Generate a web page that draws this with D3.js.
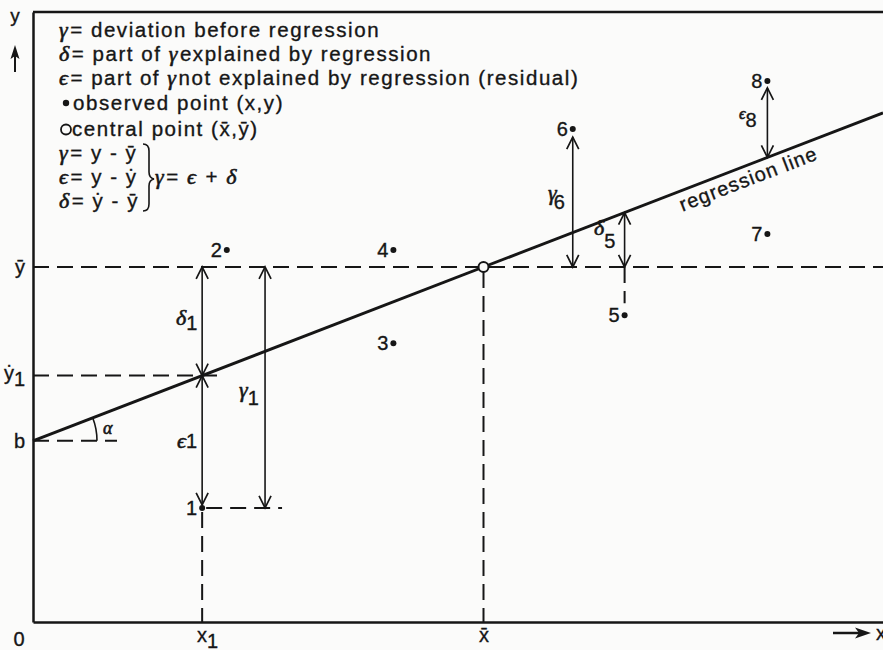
<!DOCTYPE html>
<html><head><meta charset="utf-8">
<script src="https://cdn.jsdelivr.net/npm/d3@7"></script>
<style>
body{margin:0;background:#fbfbfa;}
svg{display:block;}
text{font-family:"Liberation Sans",Arial,Helvetica,"DejaVu Sans",sans-serif;fill:#161616;stroke:#161616;stroke-width:0.35px;}
tspan.gk{font-family:"Liberation Serif","DejaVu Serif",serif;font-style:italic;stroke-width:0.6px;}
</style>
</head><body>
<svg id="c" width="883" height="650"></svg>
<script>
// ---- data (arbitrary units 0..100) ----
const pointLabels = ["1","2","3","4","5","6","7","8"];
const pointX = [19.9, 22.8, 42.4, 42.4, 69.6, 63.5, 86.4, 86.4];
const pointY = [18.7, 61.0, 45.7, 61.0, 50.3, 80.8, 63.6, 88.7];
const intercept = 29.7;      // b
const xBar = 53.0, yBar = 58.2;  // central point
const gamma1X = 27.3;        // position of the gamma_1 arrow
const legendLines = [
  "γ= deviation before regression",
  "δ= part of γexplained by regression",
  "ϵ= part of γnot explained by regression (residual)",
  "observed point (x,y)",
  "central point (x̄,ȳ)",
  "γ= y - ȳ",
  "ϵ= y - ẏ",
  "δ= ẏ - ȳ"
];
const xTickLabels = ["x1", "x̄"];
const yTickLabels = ["b", "ẏ1", "ȳ"];

// ---- derived ----
const slope = (yBar - intercept) / xBar;
const fit = v => intercept + slope * v;

const svg = d3.select("#c");
const W = 883, H = 650;
const x = d3.scaleLinear().domain([0, 100]).range([33, 883]);
const y = d3.scaleLinear().domain([0, 100]).range([622, 12]);
const ink = "#161616";

// top frame line
svg.append("line").attr("x1", x(0)).attr("x2", W).attr("y1", y(100)).attr("y2", y(100))
  .attr("stroke", ink).attr("stroke-width", 2.5);

// axes (no tick marks)
const x1 = pointX[0];
const yHat1 = fit(x1);
const gx = svg.append("g").attr("transform", `translate(0,${y(0)})`)
  .call(d3.axisBottom(x).tickValues([x1, xBar]).tickSize(0).tickSizeOuter(0).tickFormat(""));
const gy = svg.append("g").attr("transform", `translate(${x(0)},0)`)
  .call(d3.axisLeft(y).tickValues([intercept, yHat1, yBar]).tickSize(0).tickSizeOuter(0).tickFormat(""));
[gx, gy].forEach(g => {
  g.select(".domain").attr("stroke", ink).attr("stroke-width", 2.5);
  g.selectAll(".tick text").remove();
});
// x tick labels
gx.selectAll(".tick").each(function(d, i) {
  const t = d3.select(this).append("text").attr("y", 20).attr("text-anchor", "middle")
    .attr("font-size", 20).attr("fill", ink);
  if (i === 0) {
    t.append("tspan").text("x");
    t.append("tspan").attr("dy", 6).text("1");
    t.attr("x", 5);
  } else {
    t.text(xTickLabels[1]);
  }
});
// y tick labels
gy.selectAll(".tick").each(function(d, i) {
  const t = d3.select(this).append("text").attr("x", -8).attr("y", 7).attr("text-anchor", "end")
    .attr("font-size", 20).attr("fill", ink);
  if (i === 1) {
    t.append("tspan").text("ẏ");
    t.append("tspan").attr("dy", 6).text("1");
    t.attr("y", 4);
  } else {
    t.text(yTickLabels[i === 0 ? 0 : 2]);
  }
});
// origin "0"
svg.append("text").attr("x", 19).attr("y", 646).attr("text-anchor", "middle").attr("font-size", 20).text("0");

// axis name arrows
svg.append("text").attr("x", 15).attr("y", 22).attr("text-anchor", "middle").attr("font-size", 19).text("y");
svg.append("line").attr("x1", 15).attr("x2", 15).attr("y1", 72).attr("y2", 54).attr("stroke", ink).attr("stroke-width", 2);
svg.append("path").attr("d", "M15,45 L10.5,59 L15,56 L19.5,59 Z").attr("fill", ink);
svg.append("line").attr("x1", 833).attr("x2", 862).attr("y1", 633).attr("y2", 633).attr("stroke", ink).attr("stroke-width", 2.5);
svg.append("path").attr("d", "M871,633 L855,627.5 L859,633 L855,638.5 Z").attr("fill", ink);
svg.append("text").attr("x", 876).attr("y", 640).attr("font-size", 20).text("x");

// dashed guide lines
const dash = "16,8";
const dashed = (xa, ya, xb, yb) => svg.append("line")
  .attr("x1", xa).attr("y1", ya).attr("x2", xb).attr("y2", yb)
  .attr("stroke", ink).attr("stroke-width", 2).attr("stroke-dasharray", dash);
dashed(x(0), y(yBar), W, y(yBar));                 // y-bar
dashed(x(0), y(yHat1), x(x1) + 18, y(yHat1));      // y-hat 1
dashed(x(0), y(intercept), x(0) + 84, y(intercept)); // b
dashed(x(xBar), y(yBar) + 5, x(xBar), y(0));       // x-bar
dashed(x(x1), y(pointY[0]) + 4, x(x1), y(0));      // x1
dashed(x(x1) + 4, y(pointY[0]), x(gamma1X) + 17, y(pointY[0]));
dashed(x(pointX[4]), y(yBar), x(pointX[4]), y(pointY[4]) - 12);

// angle alpha
const r = 64;
const a = Math.atan((y(intercept) - y(fit(100))) / (x(100) - x(0)));
svg.append("path")
  .attr("d", `M${x(0) + r},${y(intercept)} A${r},${r} 0 0 0 ${x(0) + r * Math.cos(a)},${y(intercept) - r * Math.sin(a)}`)
  .attr("fill", "none").attr("stroke", ink).attr("stroke-width", 1.6);
const al = svg.append("text").attr("x", x(0) + 70).attr("y", y(intercept) - 7).attr("font-size", 18);
al.append("tspan").attr("class", "gk").text("α");

// regression line
svg.append("line").attr("x1", x(0)).attr("y1", y(intercept)).attr("x2", x(100)).attr("y2", y(fit(100)))
  .attr("stroke", ink).attr("stroke-width", 3);
const lx = 83.6;
svg.append("text")
  .attr("transform", `translate(${x(lx)},${y(fit(lx))}) rotate(${-a * 180 / Math.PI})`)
  .attr("x", 0).attr("y", 20).attr("text-anchor", "middle").attr("font-size", 20)
  .attr("letter-spacing", 1.1).text("regression line");

// double arrows
function vhead(xp, yTip, dir) { // dir -1: pointing up, +1: pointing down
  svg.append("path").attr("d", `M${xp - 6},${yTip - dir * 12} L${xp},${yTip} L${xp + 6},${yTip - dir * 12}`)
    .attr("fill", "none").attr("stroke", ink).attr("stroke-width", 1.7);
}
function darrow(xv, yTopPx, yBotPx) {
  svg.append("line").attr("x1", x(xv)).attr("x2", x(xv)).attr("y1", yTopPx).attr("y2", yBotPx)
    .attr("stroke", ink).attr("stroke-width", 1.6);
  vhead(x(xv), yTopPx, -1);
  vhead(x(xv), yBotPx, 1);
}
darrow(x1, y(yBar), y(yHat1));                  // delta 1
darrow(x1, y(yHat1), y(pointY[0]) - 3);         // epsilon 1
darrow(gamma1X, y(yBar), y(pointY[0]));         // gamma 1
darrow(pointX[5], y(pointY[5]) + 8, y(yBar));   // gamma 6
darrow(pointX[4], y(fit(pointX[4])), y(yBar));  // delta 5
darrow(pointX[7], y(pointY[7]) + 7, y(fit(pointX[7]))); // epsilon 8

// arrow labels
function sublabel(px, py, greek, sub, dx, dy, gsize) {
  const t = svg.append("text").attr("x", px).attr("y", py).attr("font-size", 20);
  t.append("tspan").attr("class", "gk").attr("font-size", gsize || 22).text(greek);
  t.append("tspan").attr("dx", dx).attr("dy", dy).text(sub);
}
sublabel(176, 325, "δ", "1", 0, 5);
sublabel(177, 448, "ϵ", "1", 0, 0);
sublabel(239, 397, "γ", "1", 0, 8);
sublabel(548, 200, "γ", "6", -3, 9);
sublabel(594, 235, "δ", "5", 0, 13);
sublabel(739, 119, "ϵ", "8", 0, 8, 16);

// observed points
svg.append("g").selectAll("circle").data(pointLabels).join("circle")
  .attr("cx", (d, i) => x(pointX[i])).attr("cy", (d, i) => y(pointY[i])).attr("r", 3).attr("fill", ink);
svg.append("g").selectAll("text").data(pointLabels).join("text")
  .attr("x", (d, i) => x(pointX[i]) - 5).attr("y", (d, i) => y(pointY[i]) + 7)
  .attr("text-anchor", "end").attr("font-size", 20).text(d => d);

// central point
svg.append("circle").attr("cx", x(xBar)).attr("cy", y(yBar)).attr("r", 5)
  .attr("fill", "#fbfbfa").attr("stroke", ink).attr("stroke-width", 2);

// legend
const baselines = [37, 61, 85, 110, 136, 160, 184, 208];
const lg = svg.append("g").attr("font-size", 20.5).attr("letter-spacing", 1.55);
function richText(sel, str) {
  const parts = str.split(/([γδϵ])/);
  let prevGreek = false;
  parts.forEach(p => {
    if (!p) return;
    const isGreek = /^[γδϵ]$/.test(p);
    const s = sel.append("tspan").text(p);
    if (isGreek) s.attr("class", "gk").attr("font-size", 22).attr("letter-spacing", 0.5);
    else if (prevGreek) s.attr("dx", 2);
    prevGreek = isGreek;
  });
}
legendLines.forEach((line, i) => {
  let xs = 59;
  if (i === 3) {
    svg.append("circle").attr("cx", 66).attr("cy", baselines[i] - 7).attr("r", 3.2).attr("fill", ink);
    xs = 73;
  }
  if (i === 4) {
    svg.append("circle").attr("cx", 66).attr("cy", baselines[i] - 6.5).attr("r", 5)
      .attr("fill", "none").attr("stroke", ink).attr("stroke-width", 1.8);
    xs = 72;
  }
  const t = lg.append("text").attr("x", xs).attr("y", baselines[i]);
  richText(t, line);
});
// brace and total
svg.append("path")
  .attr("d", "M143,144 Q149,144 149,151 L149,172 Q149,178 154,179 Q149,180 149,186 L149,204 Q149,211 143,211")
  .attr("fill", "none").attr("stroke", ink).attr("stroke-width", 1.6);
const tot = lg.append("text").attr("x", 155).attr("y", 184);
richText(tot, "γ= ϵ + δ");
</script>
</body></html>
